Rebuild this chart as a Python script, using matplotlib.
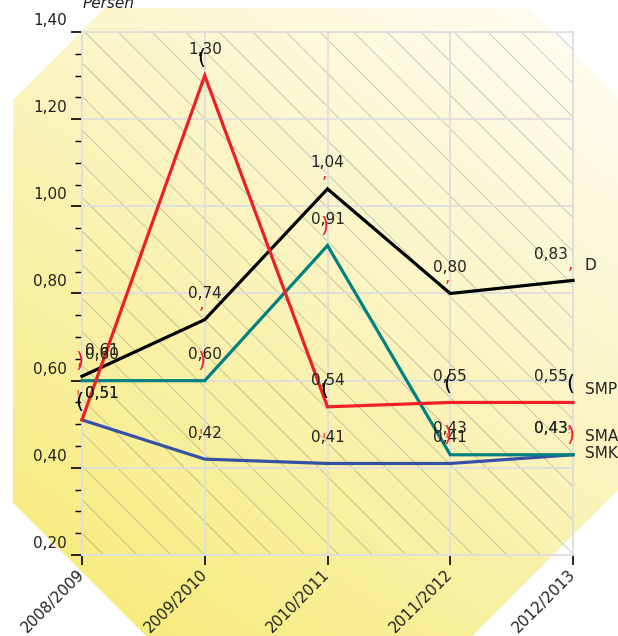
import numpy as np
import matplotlib
matplotlib.use("Agg")
import matplotlib.pyplot as plt
import matplotlib.transforms as mtransforms
from matplotlib.patches import Polygon
from matplotlib.colors import LinearSegmentedColormap

# data
years = ["2008/2009", "2009/2010", "2010/2011", "2011/2012", "2012/2013"]
d_vals = [0.61, 0.74, 1.04, 0.80, 0.83]
sma_vals = [0.60, 0.60, 0.91, 0.43, 0.43]
smp_vals = [0.51, 1.30, 0.54, 0.55, 0.55]
smk_vals = [0.51, 0.42, 0.41, 0.41, 0.43]
series_names = ["D", "SMA", "SMP", "SMK"]
y_ticks = [0.20, 0.40, 0.60, 0.80, 1.00, 1.20, 1.40]

W, H = 618, 636
fig = plt.figure(figsize=(W / 100, H / 100), dpi=100)

# octagon background with diagonal yellow gradient
bg = fig.add_axes([0, 0, 1, 1])
bg.set_xlim(0, W)
bg.set_ylim(H, 0)
bg.axis("off")
gx, gy = np.meshgrid(np.linspace(0, 1, 300), np.linspace(0, 1, 300))
grad = (0.8 * gx + 1.2 * (1 - gy)) / 2
cmap = LinearSegmentedColormap.from_list(
    "yel", ["#f6ea72", "#f9f0a0", "#fcf6cf", "#fffef6"])
im = bg.imshow(grad, cmap=cmap, extent=(0, W, H, 0), aspect="auto", zorder=0)
octa = Polygon([(13, 100), (105, 8), (528, 8), (618, 98), (618, 490),
                (472, 636), (146, 636), (13, 503)],
               closed=True, facecolor="none", edgecolor="none",
               transform=bg.transData)
bg.add_patch(octa)
im.set_clip_path(octa)

# main axes
L, R, T, B = 82, 573, 32, 555
ax = fig.add_axes([L / W, 1 - B / H, (R - L) / W, (B - T) / H])
ax.patch.set_alpha(0)
x = np.arange(len(years))
ax.set_xlim(0, len(years) - 1)
ax.set_ylim(0.2, 1.4)

# hatch lines, 45 degrees in pixel space
pw, ph = R - L, B - T
for px in np.arange(2.7 - 33.6 * 17, pw, 33.6):
    ax.plot([px / pw, (px + ph) / pw], [1, 0], transform=ax.transAxes,
            color="#8a8a8a", lw=0.5, alpha=0.6, zorder=1)

ax.grid(True, color="#dedede", lw=1.3, zorder=1)
for s in ax.spines.values():
    s.set_color("#dedede")
    s.set_linewidth(1.3)

ax.set_xticks(x)
ax.set_xticklabels(years, rotation=45, ha="right", va="center",
                   rotation_mode="anchor", fontsize=11, color="#222222")
ax.tick_params(axis="x", length=7, width=1.2, color="black", pad=5)
ax.set_yticks(y_ticks)
ax.set_yticklabels([f"{v:.2f}".replace(".", ",") for v in y_ticks],
                   fontsize=11, color="#222222")
ax.set_yticks(np.arange(0.25, 1.4, 0.05), minor=True)
ax.tick_params(axis="y", which="major", length=8, width=1.2, color="black", pad=3)
ax.tick_params(axis="y", which="minor", length=5, width=1.0, color="black")
shift = mtransforms.ScaledTranslation(0, 13 / 100, fig.dpi_scale_trans)
for lab in ax.get_yticklabels():
    lab.set_transform(lab.get_transform() + shift)

# lines
colors = {"D": "#000000", "SMA": "#008080", "SMP": "#ee2026", "SMK": "#3550a5"}
values = {"D": d_vals, "SMA": sma_vals, "SMP": smp_vals, "SMK": smk_vals}
# stray glyphs (char, colour, fontsize, dx, dy) drawn above each point
glyphs = {"D": (",", "#ee2026", 12, -3, 16),
          "SMA": (")", "#ee2026", 15, -3, 20),
          "SMP": ("(", "#000000", 15, -3, 18),
          "SMK": ("!", "#ee2026", 8, -4, 25)}
name_dy = {"D": 15, "SMA": 18, "SMP": 13, "SMK": 1}

for name in ["SMK", "SMA", "D", "SMP"]:
    ax.plot(x, values[name], color=colors[name], lw=2.3, zorder=3,
            clip_on=False, solid_joinstyle="miter")

for name in series_names:
    vals = values[name]
    for i, v in enumerate(vals):
        if i == 0:
            ha, dx = "left", 3
        elif i == len(vals) - 1:
            ha, dx = "right", -5
        else:
            ha, dx = "center", 0
        ax.annotate(f"{v:.2f}".replace(".", ","), (x[i], v),
                    xytext=(dx * 0.72, 26 * 0.72), textcoords="offset points",
                    ha=ha, va="center", fontsize=11, color="#222222",
                    zorder=4, annotation_clip=False)
        ch, col, fs, gdx, gdy = glyphs[name]
        ax.annotate(ch, (x[i], v), xytext=(gdx * 0.72, gdy * 0.72),
                    textcoords="offset points", ha="center", va="center",
                    fontsize=fs, color=col, zorder=5, annotation_clip=False)
    ax.annotate(name, (x[-1], vals[-1]), xytext=(12 * 0.72, name_dy[name] * 0.72),
                textcoords="offset points", ha="left", va="center",
                fontsize=11, color="#222222", annotation_clip=False)

fig.text(83 / W, 1 - 8 / H, "Persen", fontsize=11, style="italic",
         color="#222222", va="baseline")

fig.savefig("out.png", dpi=100)
